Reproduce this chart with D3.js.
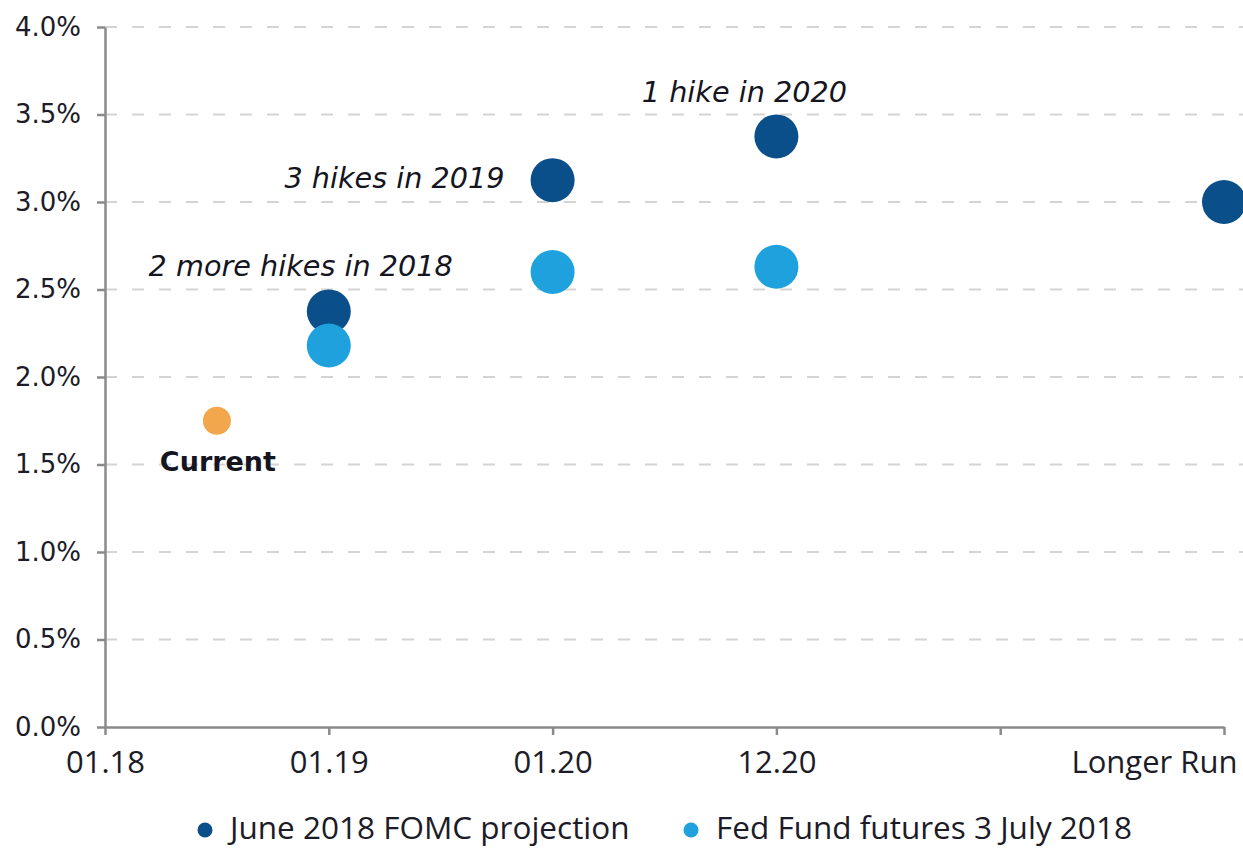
<!DOCTYPE html>
<html>
<head>
<meta charset="utf-8">
<script src="https://cdn.jsdelivr.net/npm/d3@7"></script>
<style>
  body { margin: 0; background: #fff; }
  svg { display: block; }
</style>
</head>
<body>
<div id="chart"></div>
<script>
// categories on the x axis (one unlabeled slot before "Longer Run")
var xLabels = ["01.18", "01.19", "01.20", "12.20", "", "Longer Run"];
var yTicks = [0, 0.5, 1, 1.5, 2, 2.5, 3, 3.5, 4];

// June 2018 FOMC projection (median dots)
var fomcSlots = [1, 2, 3, 5];
var fomcValues = [2.375, 3.125, 3.375, 3.0];

// Fed Fund futures 3 July 2018
var futuresSlots = [1, 2, 3];
var futuresValues = [2.18, 2.60, 2.63];

// current rate, half way between 01.18 and 01.19
var currentSlot = 0.5;
var currentValue = 1.75;

var annotations = ["1 hike in 2020", "3 hikes in 2019", "2 more hikes in 2018", "Current"];
var legendNames = ["June 2018 FOMC projection", "Fed Fund futures 3 July 2018"];

var colDark = "#0b4f8a",
    colLight = "#1ea1dc",
    colOrange = "#f2a74c";

var width = 1243,
    height = 848;

var svg = d3.select("#chart").append("svg")
    .attr("width", width)
    .attr("height", height);

var x = d3.scaleLinear().domain([0, 5]).range([105, 1224]);
var y = d3.scaleLinear().domain([0, 4]).range([727, 27]);

// dashed gridlines
svg.append("g")
    .selectAll("line")
    .data(yTicks.filter(d => d > 0))
    .join("line")
    .attr("x1", x(0))
    .attr("x2", width)
    .attr("y1", d => y(d))
    .attr("y2", d => y(d))
    .attr("stroke", "#d4d4d4")
    .attr("stroke-width", 2)
    .attr("stroke-dasharray", "12 15");

// y axis
var yAxis = svg.append("g")
    .attr("transform", "translate(" + x(0) + ",0)")
    .call(d3.axisLeft(y)
        .tickValues(yTicks)
        .tickFormat(d => d.toFixed(1) + "%")
        .tickSize(8)
        .tickSizeOuter(0)
        .tickPadding(16));
yAxis.selectAll("text")
    .style("font-family", "'DejaVu Sans', sans-serif")
    .style("font-size", "26px")
    .style("fill", "#1c1c28");

// x axis
var xAxis = svg.append("g")
    .attr("transform", "translate(0," + y(0) + ")")
    .call(d3.axisBottom(x)
        .tickValues(d3.range(xLabels.length))
        .tickFormat(i => xLabels[i])
        .tickSize(8)
        .tickSizeOuter(0)
        .tickPadding(16));
xAxis.selectAll("text")
    .style("font-family", "'Open Sans', sans-serif")
    .style("font-size", "31px")
    .style("fill", "#1c1c28");
// last label is pushed left so it fits
xAxis.selectAll(".tick").filter(d => d === xLabels.length - 1).select("text")
    .attr("text-anchor", "end")
    .attr("x", 13);

svg.selectAll(".domain, .tick line")
    .attr("stroke", "#8a8a8a")
    .attr("stroke-width", 2.5);

// dots
var fomc = fomcSlots.map((s, i) => ({ s: s, v: fomcValues[i] }));
var futures = futuresSlots.map((s, i) => ({ s: s, v: futuresValues[i] }));

svg.append("g")
    .selectAll("circle")
    .data(fomc)
    .join("circle")
    .attr("cx", d => x(d.s))
    .attr("cy", d => y(d.v))
    .attr("r", 22)
    .attr("fill", colDark);

svg.append("g")
    .selectAll("circle")
    .data(futures)
    .join("circle")
    .attr("cx", d => x(d.s))
    .attr("cy", d => y(d.v))
    .attr("r", 22)
    .attr("fill", colLight);

svg.append("circle")
    .attr("cx", x(currentSlot))
    .attr("cy", y(currentValue))
    .attr("r", 14)
    .attr("fill", colOrange);

// annotations, placed relative to the point they describe
var notePlace = [
    { px: x(3), py: y(fomcValues[2]), dx: -32, dy: -34, anchor: "middle" },
    { px: x(2), py: y(fomcValues[1]), dx: -48, dy: 8, anchor: "end" },
    { px: x(1), py: y(fomcValues[0]), dx: 124, dy: -35, anchor: "end" },
    { px: x(currentSlot), py: y(currentValue), dx: 1, dy: 50, anchor: "middle" }
];

svg.append("g")
    .selectAll("text")
    .data(annotations)
    .join("text")
    .attr("x", (d, i) => notePlace[i].px + notePlace[i].dx)
    .attr("y", (d, i) => notePlace[i].py + notePlace[i].dy)
    .attr("text-anchor", (d, i) => notePlace[i].anchor)
    .style("font-family", "'DejaVu Sans', sans-serif")
    .style("font-size", (d, i) => i === 3 ? "27px" : "28.7px")
    .style("font-style", (d, i) => i === 3 ? "normal" : "italic")
    .style("font-weight", (d, i) => i === 3 ? "bold" : "normal")
    .style("fill", "#15151f")
    .text(d => d);

// legend
var legendX = [205, 691];
var legend = svg.append("g")
    .selectAll("g")
    .data(legendNames)
    .join("g")
    .attr("transform", (d, i) => "translate(" + legendX[i] + ",830)");

legend.append("circle")
    .attr("r", 7.5)
    .attr("fill", (d, i) => i === 0 ? colDark : colLight);

legend.append("text")
    .attr("x", 25)
    .attr("y", 9)
    .style("font-family", "'Open Sans', sans-serif")
    .style("font-size", "31.5px")
    .style("fill", "#1c1c28")
    .text(d => d);
</script>
</body>
</html>
